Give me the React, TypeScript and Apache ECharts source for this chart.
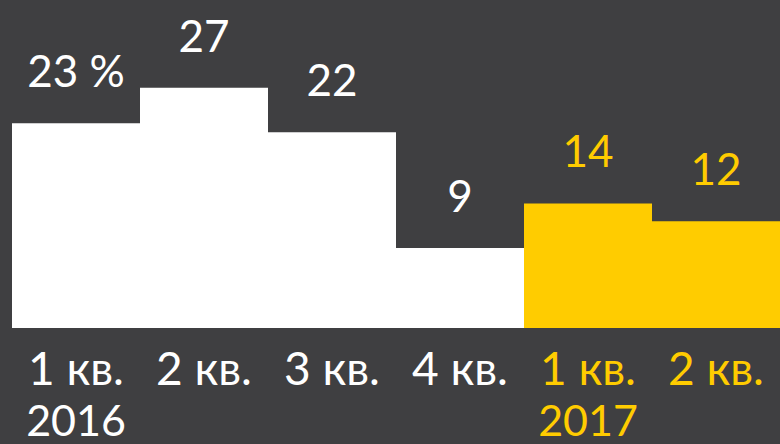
import React, { useEffect, useRef } from "react";
import * as echarts from "echarts";

const quarters = ["1 кв.", "2 кв.", "3 кв.", "4 кв.", "1 кв.", "2 кв."];
const years = ["2016", "2016", "2016", "2016", "2017", "2017"];
const values = [23, 27, 22, 9, 14, 12];

const BG = "#3f3f41";
const WHITE = "#ffffff";
const YELLOW = "#ffcc00";
const colorFor = (i: number) => (years[i] === "2017" ? YELLOW : WHITE);

export default function App() {
  const ref = useRef<HTMLDivElement>(null);
  useEffect(() => {
    document.body.style.margin = "0";
    const chart = echarts.init(ref.current!, null, { renderer: "svg" });
    chart.setOption({
      animation: false,
      backgroundColor: BG,
      grid: { left: 12, right: 0, top: 61, bottom: 116 },
      xAxis: {
        type: "category",
        data: quarters,
        axisLine: { show: false },
        axisTick: { show: false },
        splitLine: { show: false },
        axisLabel: {
          interval: 0,
          margin: 13,
          formatter: (v: string, i: number) => {
            const key = years[i] === "2017" ? "y" : "w";
            const showYear = i === 0 || years[i] !== years[i - 1];
            return showYear ? `{${key}|${v}}\n{${key}Y|${years[i]}}` : `{${key}|${v}}`;
          },
          verticalAlign: "top",
          rich: {
            w: { color: WHITE, fontFamily: "Lato", fontSize: 46, lineHeight: 52 },
            y: { color: YELLOW, fontFamily: "Lato", fontSize: 46, lineHeight: 52 },
            wY: { color: WHITE, fontFamily: "Lato", fontSize: 43, lineHeight: 52 },
            yY: { color: YELLOW, fontFamily: "Lato", fontSize: 43, lineHeight: 52 },
          },
        },
      },
      yAxis: { type: "value", min: 0, max: 30, show: false, splitLine: { show: false } },
      series: [
        {
          type: "bar",
          barCategoryGap: 0,
          data: values.map((v, i) => ({
            value: v,
            itemStyle: { color: colorFor(i) },
            label: { color: colorFor(i) },
          })),
          label: {
            show: true,
            position: "top",
            distance: 31,
            fontFamily: "Lato",
            fontSize: 44,
            formatter: (p: any) => (p.dataIndex === 0 ? `${p.value} %` : `${p.value}`),
          },
        },
      ],
    });
    return () => chart.dispose();
  }, []);
  return <div ref={ref} style={{ width: 780, height: 444 }} />;
}
